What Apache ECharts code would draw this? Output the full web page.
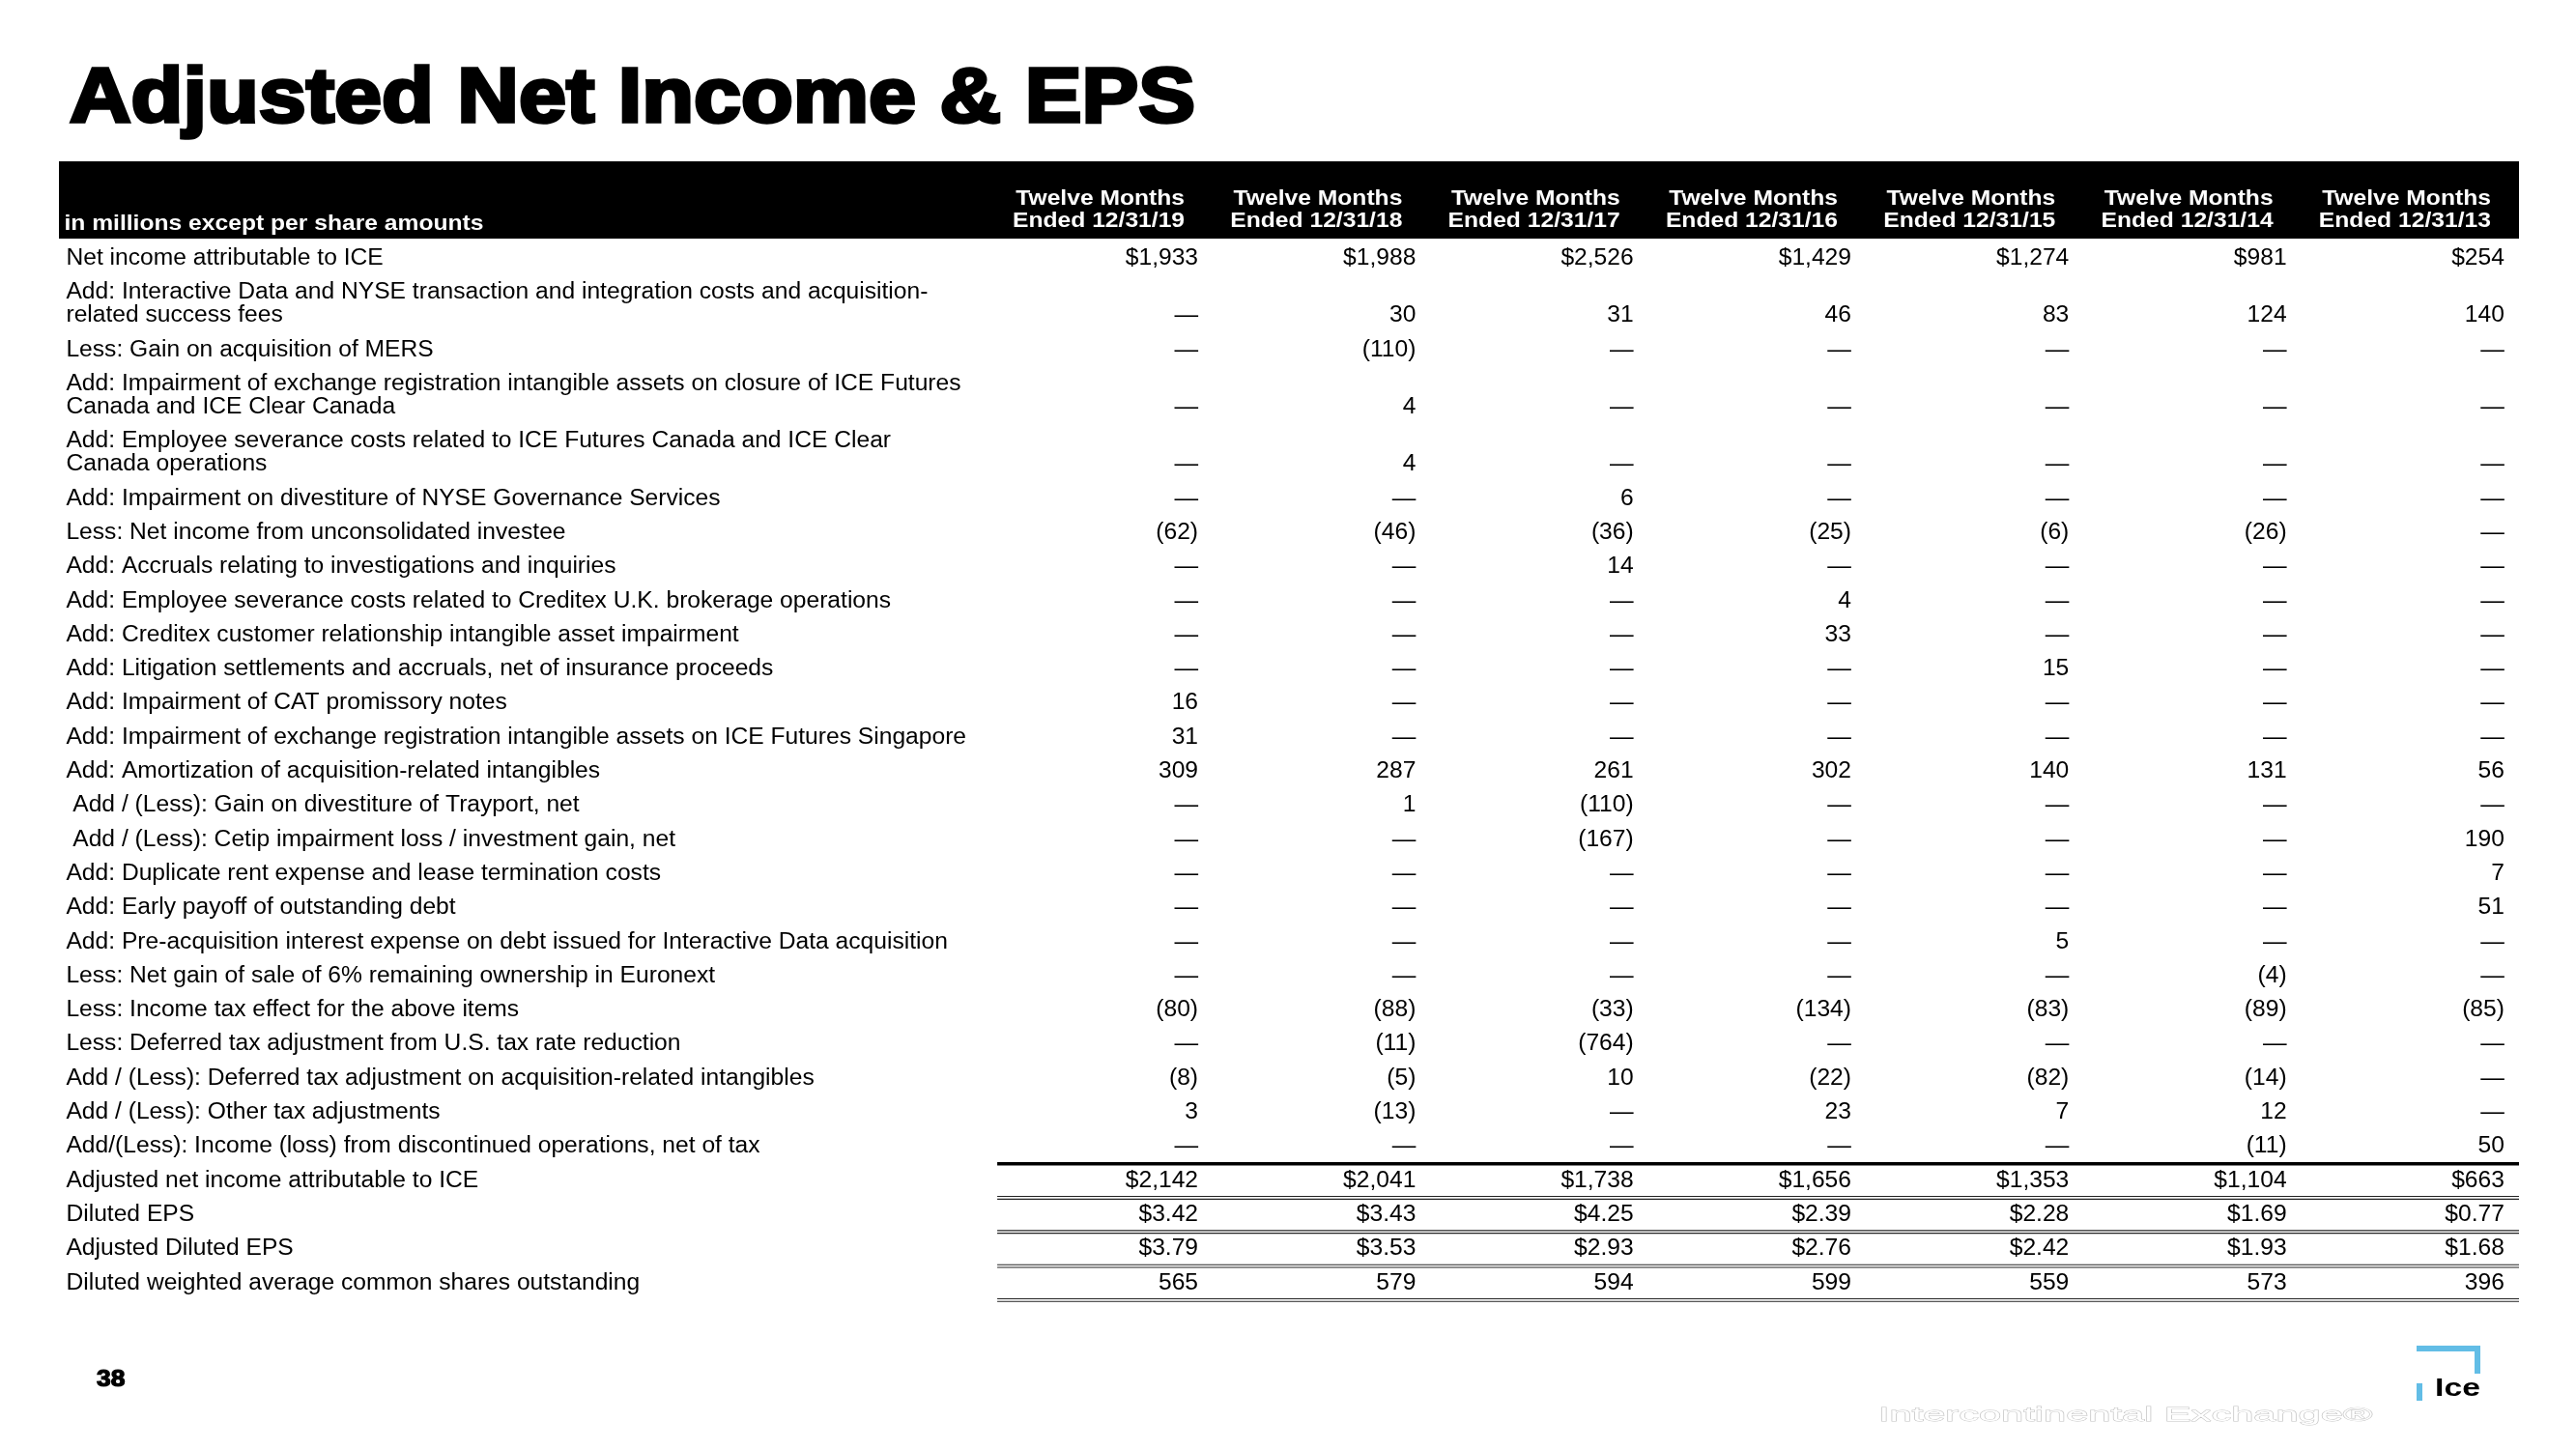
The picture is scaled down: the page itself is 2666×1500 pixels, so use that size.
<!DOCTYPE html>
<html>
<head>
<meta charset="utf-8">
<title>Adjusted Net Income & EPS</title>
<script src="https://cdn.jsdelivr.net/npm/echarts@6/dist/echarts.min.js"></script>
<style>
  html, body { margin: 0; padding: 0; background: #fff; }
  #main { width: 2666px; height: 1500px; }
</style>
</head>
<body>
<div id="main"></div>
<script>
// ---- data ----
const titleText = 'Adjusted Net Income & EPS';
const unitNote = 'in millions except per share amounts';
const periods = [
  'Twelve Months\nEnded 12/31/19', 'Twelve Months\nEnded 12/31/18', 'Twelve Months\nEnded 12/31/17',
  'Twelve Months\nEnded 12/31/16', 'Twelve Months\nEnded 12/31/15', 'Twelve Months\nEnded 12/31/14',
  'Twelve Months\nEnded 12/31/13'
];
const rowLabels = [
  'Net income attributable to ICE',
  'Add: Interactive Data and NYSE transaction and integration costs and acquisition-\nrelated success fees',
  'Less: Gain on acquisition of MERS',
  'Add: Impairment of exchange registration intangible assets on closure of ICE Futures\nCanada and ICE Clear Canada',
  'Add: Employee severance costs related to ICE Futures Canada and ICE Clear\nCanada operations',
  'Add: Impairment on divestiture of NYSE Governance Services',
  'Less: Net income from unconsolidated investee',
  'Add: Accruals relating to investigations and inquiries',
  'Add: Employee severance costs related to Creditex U.K. brokerage operations',
  'Add: Creditex customer relationship intangible asset impairment',
  'Add: Litigation settlements and accruals, net of insurance proceeds',
  'Add: Impairment of CAT promissory notes',
  'Add: Impairment of exchange registration intangible assets on ICE Futures Singapore',
  'Add: Amortization of acquisition-related intangibles',
  ' Add / (Less): Gain on divestiture of Trayport, net',
  ' Add / (Less): Cetip impairment loss / investment gain, net',
  'Add: Duplicate rent expense and lease termination costs',
  'Add: Early payoff of outstanding debt',
  'Add: Pre-acquisition interest expense on debt issued for Interactive Data acquisition',
  'Less: Net gain of sale of 6% remaining ownership in Euronext',
  'Less: Income tax effect for the above items',
  'Less: Deferred tax adjustment from U.S. tax rate reduction',
  'Add / (Less): Deferred tax adjustment on acquisition-related intangibles',
  'Add / (Less): Other tax adjustments',
  'Add/(Less): Income (loss) from discontinued operations, net of tax',
  'Adjusted net income attributable to ICE',
  'Diluted EPS',
  'Adjusted Diluted EPS',
  'Diluted weighted average common shares outstanding'
];
const fy2019 = ['$1,933','—','—','—','—','—','(62)','—','—','—','—','16','31','309','—','—','—','—','—','—','(80)','—','(8)','3','—','$2,142','$3.42','$3.79','565'];
const fy2018 = ['$1,988','30','(110)','4','4','—','(46)','—','—','—','—','—','—','287','1','—','—','—','—','—','(88)','(11)','(5)','(13)','—','$2,041','$3.43','$3.53','579'];
const fy2017 = ['$2,526','31','—','—','—','6','(36)','14','—','—','—','—','—','261','(110)','(167)','—','—','—','—','(33)','(764)','10','—','—','$1,738','$4.25','$2.93','594'];
const fy2016 = ['$1,429','46','—','—','—','—','(25)','—','4','33','—','—','—','302','—','—','—','—','—','—','(134)','—','(22)','23','—','$1,656','$2.39','$2.76','599'];
const fy2015 = ['$1,274','83','—','—','—','—','(6)','—','—','—','15','—','—','140','—','—','—','—','5','—','(83)','—','(82)','7','—','$1,353','$2.28','$2.42','559'];
const fy2014 = ['$981','124','—','—','—','—','(26)','—','—','—','—','—','—','131','—','—','—','—','—','(4)','(89)','—','(14)','12','(11)','$1,104','$1.69','$1.93','573'];
const fy2013 = ['$254','140','—','—','—','—','—','—','—','—','—','—','—','56','—','190','7','51','—','—','(85)','—','—','—','50','$663','$0.77','$1.68','396'];
const columns = [fy2019, fy2018, fy2017, fy2016, fy2015, fy2014, fy2013];
// rules under the totals block: row index they sit under, and kind
const ruleRows = [24, 25, 26, 27, 28];
const ruleKinds = ['single', 'double', 'double', 'double', 'double'];

// ---- layout ----
const X_MIN = -5.233, X_MAX = 6.067;   // column units, value columns at 0..6
const Y_MIN = -2.853, Y_MAX = 30.94;   // row units
const LABEL_X = -5.2;
const RULE_X0 = -0.923;
const HEAD_Y = -1.422, NOTE_Y = -1.02;
const EXTRA_LINE = 0.68;               // extra height of a wrapped label line
const LH = 24;
const FONT = '"Liberation Sans", Arial, sans-serif';

// row positions follow the number of lines in each label
const rowY = [];
let acc = -1;
rowLabels.forEach(l => {
  acc += 1 + (l.split('\n').length - 1) * EXTRA_LINE;
  rowY.push(acc);
});

const cellData = [];
columns.forEach((col, c) => col.forEach((v, r) => cellData.push([c, rowY[r], r, c])));

const chart = echarts.init(document.getElementById('main'));

const option = {
  backgroundColor: '#fff',
  animation: false,
  grid: { left: 61, right: 59, top: 167, bottom: 140 },
  xAxis: { type: 'value', min: X_MIN, max: X_MAX, show: false },
  yAxis: { type: 'value', min: Y_MIN, max: Y_MAX, inverse: true, show: false },
  graphic: [
    {
      type: 'text', x: 72, y: 104, scaleX: 1.115,
      style: { text: titleText, fill: '#000', fontFamily: FONT, fontWeight: 'bold', fontSize: 79,
               stroke: '#000', lineWidth: 3.5, align: 'left', verticalAlign: 'middle' }
    },
    {
      type: 'rect', z: -1, shape: { x: 61, y: 167, width: 2546, height: 80 }, style: { fill: '#000' }
    },
    {
      type: 'text', x: 100, y: 1428, scaleX: 1.1,
      style: { text: '38', fill: '#000', fontFamily: FONT, fontWeight: 'bold', fontSize: 24,
               stroke: '#000', lineWidth: 1.2, align: 'left', verticalAlign: 'middle' }
    },
    {
      type: 'text', x: 1944, y: 1465, scaleX: 1.98,
      style: { text: 'Intercontinental Exchange®', fill: '#fff', stroke: '#c4c4c4', lineWidth: 0.8,
               fontFamily: FONT, fontSize: 21, align: 'left', verticalAlign: 'middle' }
    },
    { type: 'rect', shape: { x: 2501, y: 1393, width: 66, height: 6 }, style: { fill: '#62bde6' } },
    { type: 'rect', shape: { x: 2561, y: 1393, width: 6, height: 29 }, style: { fill: '#62bde6' } },
    { type: 'rect', shape: { x: 2501, y: 1432, width: 6, height: 18 }, style: { fill: '#62bde6' } },
    {
      type: 'text', x: 2567, y: 1451, scaleX: 1.35,
      style: { text: 'Ice', fill: '#000', fontFamily: FONT, fontWeight: 'bold', fontSize: 25,
               align: 'right', verticalAlign: 'bottom' }
    }
  ],
  series: [
    {
      // column headers + unit note on the black band
      type: 'custom',
      z: 5,
      data: periods.map((p, i) => [i, HEAD_Y]).concat([[LABEL_X, NOTE_Y]]),
      renderItem: (params, api) => {
        const pt = api.coord([api.value(0), api.value(1)]);
        const isNote = params.dataIndex === periods.length;
        return {
          type: 'text',
          x: isNote ? pt[0] - 2 : pt[0] - 14,
          y: pt[1],
          scaleX: 1.12,
          style: {
            text: isNote ? unitNote : periods[params.dataIndex],
            fill: '#fff', fontFamily: FONT, fontWeight: 'bold', fontSize: 22, lineHeight: 23,
            align: isNote ? 'left' : 'right', verticalAlign: 'middle'
          }
        };
      }
    },
    {
      // row labels
      type: 'custom',
      data: rowLabels.map((l, i) => [LABEL_X, rowY[i]]),
      renderItem: (params, api) => {
        const pt = api.coord([api.value(0), api.value(1)]);
        return {
          type: 'text', x: pt[0], y: pt[1] + LH / 2, scaleX: 1.07,
          style: {
            text: rowLabels[params.dataIndex], fill: '#000', fontFamily: FONT, fontSize: 23,
            lineHeight: LH, align: 'left', verticalAlign: 'bottom'
          }
        };
      }
    },
    {
      // value cells
      type: 'custom',
      data: cellData,
      renderItem: (params, api) => {
        const pt = api.coord([api.value(0), api.value(1)]);
        const txt = columns[api.value(3)][api.value(2)];
        return {
          type: 'text', x: pt[0], y: pt[1], scaleX: 1.07,
          style: {
            text: txt, fill: '#000', fontFamily: FONT, fontSize: 23,
            align: 'right', verticalAlign: 'middle'
          }
        };
      }
    },
    {
      // underline rules of the totals block
      type: 'custom',
      data: ruleRows.map((r, i) => [RULE_X0, rowY[r] + 0.5, i]),
      renderItem: (params, api) => {
        const p0 = api.coord([api.value(0), api.value(1)]);
        const p1 = api.coord([X_MAX, api.value(1)]);
        const kind = ruleKinds[api.value(2)];
        if (kind === 'single') {
          return {
            type: 'line',
            shape: { x1: p0[0], y1: p0[1], x2: p1[0], y2: p1[1] },
            style: { stroke: '#000', lineWidth: 3.5 }
          };
        }
        return {
          type: 'group',
          children: [-1.4, 1.4].map(d => ({
            type: 'line',
            shape: { x1: p0[0], y1: p0[1] + d, x2: p1[0], y2: p1[1] + d },
            style: { stroke: '#222', lineWidth: 1.1 }
          }))
        };
      }
    }
  ]
};

chart.setOption(option);
</script>
</body>
</html>
